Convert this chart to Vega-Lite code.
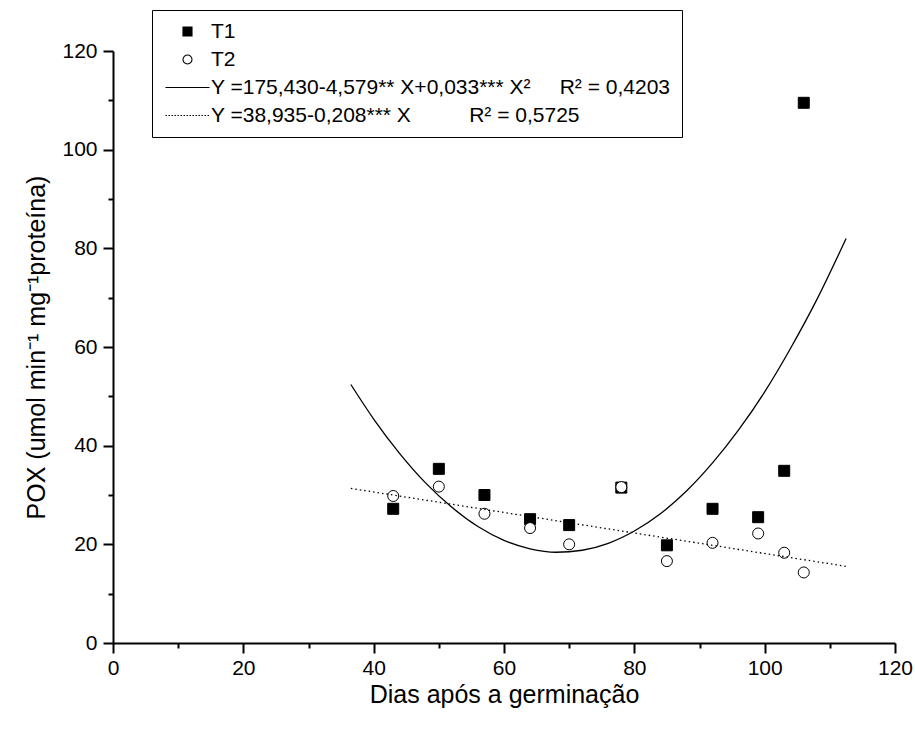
{
  "$schema": "https://vega.github.io/schema/vega-lite/v6.json",
  "width": 782,
  "height": 592,
  "autosize": {"type": "none"},
  "padding": {"left": 113, "top": 51, "right": 20, "bottom": 86},
  "background": "white",
  "config": {
    "view": {"stroke": null},
    "font": "Liberation Sans",
    "axis": {
      "grid": false,
      "domainColor": "black",
      "domainWidth": 2,
      "tickColor": "black",
      "tickWidth": 2,
      "labelFont": "Liberation Sans",
      "labelFontSize": 21,
      "labelColor": "black",
      "labelFlush": false,
      "labelOverlap": false,
      "titleFont": "Liberation Sans",
      "titleFontSize": 25,
      "titleFontWeight": "normal",
      "titleColor": "black"
    },
    "legend": {
      "title": null,
      "orient": "none",
      "legendX": 39,
      "legendY": -41,
      "strokeColor": "black",
      "fillColor": "white",
      "padding": 11,
      "symbolSize": 81,
      "symbolOffset": 14,
      "symbolStrokeWidth": 1.1,
      "symbolFillColor": "white",
      "symbolStrokeColor": "black",
      "symbolOpacity": 1,
      "labelOffset": 13,
      "labelFont": "Liberation Sans",
      "labelFontSize": 21,
      "labelColor": "black",
      "labelLimit": 0,
      "rowPadding": 6
    }
  },
  "datasets": {
    "points": [
      {"x": 43, "y": 27.2, "series": "T1"},
      {"x": 50, "y": 35.3, "series": "T1"},
      {"x": 57, "y": 30.0, "series": "T1"},
      {"x": 64, "y": 25.1, "series": "T1"},
      {"x": 70, "y": 23.9, "series": "T1"},
      {"x": 78, "y": 31.5, "series": "T1"},
      {"x": 85, "y": 19.8, "series": "T1"},
      {"x": 92, "y": 27.2, "series": "T1"},
      {"x": 99, "y": 25.5, "series": "T1"},
      {"x": 103, "y": 34.9, "series": "T1"},
      {"x": 106, "y": 109.5, "series": "T1"},
      {"x": 43, "y": 29.8, "series": "T2"},
      {"x": 50, "y": 31.7, "series": "T2"},
      {"x": 57, "y": 26.2, "series": "T2"},
      {"x": 64, "y": 23.3, "series": "T2"},
      {"x": 70, "y": 20.0, "series": "T2"},
      {"x": 78, "y": 31.6, "series": "T2"},
      {"x": 85, "y": 16.6, "series": "T2"},
      {"x": 92, "y": 20.3, "series": "T2"},
      {"x": 99, "y": 22.2, "series": "T2"},
      {"x": 103, "y": 18.3, "series": "T2"},
      {"x": 106, "y": 14.3, "series": "T2"}
    ],
    "quad": [
      {"x": 36.5, "y": 52.4},
      {"x": 40, "y": 45.4},
      {"x": 44, "y": 38.4},
      {"x": 48, "y": 32.4},
      {"x": 52, "y": 27.5},
      {"x": 56, "y": 23.6},
      {"x": 60, "y": 20.8},
      {"x": 64, "y": 19.1},
      {"x": 68, "y": 18.4},
      {"x": 72, "y": 18.8},
      {"x": 76, "y": 20.2},
      {"x": 80, "y": 22.7},
      {"x": 84, "y": 26.2},
      {"x": 88, "y": 30.8},
      {"x": 92, "y": 36.5},
      {"x": 96, "y": 43.2},
      {"x": 100, "y": 50.9},
      {"x": 104, "y": 59.8},
      {"x": 108, "y": 69.6},
      {"x": 112.5, "y": 82.0}
    ],
    "lin": [
      {"x": 36.5, "y": 31.34},
      {"x": 112.5, "y": 15.54}
    ]
  },
  "layer": [
    {
      "data": {"name": "points"},
      "mark": {"type": "point", "filled": true, "stroke": "black", "strokeWidth": 1, "opacity": 1, "size": 121},
      "encoding": {
        "x": {
          "field": "x", "type": "quantitative",
          "scale": {"domain": [0, 120], "nice": false, "zero": false},
          "axis": {
            "title": "Dias após a germinação",
            "values": [0, 10, 20, 30, 40, 50, 60, 70, 80, 90, 100, 110, 120],
            "labelExpr": "datum.value % 20 === 0 ? datum.label : ''",
            "tickSize": {"condition": {"test": "datum.value % 20 === 0", "value": 10}, "value": 5},
            "labelPadding": 4,
            "titlePadding": 4
          }
        },
        "y": {
          "field": "y", "type": "quantitative",
          "scale": {"domain": [0, 120], "nice": false, "zero": false},
          "axis": {
            "title": "POX (umol min⁻¹ mg⁻¹proteína)",
            "values": [0, 10, 20, 30, 40, 50, 60, 70, 80, 90, 100, 110, 120],
            "labelExpr": "datum.value % 20 === 0 ? datum.label : ''",
            "tickSize": {"condition": {"test": "datum.value % 20 === 0", "value": 10}, "value": 5},
            "labelPadding": 6,
            "titlePadding": 12
          }
        },
        "shape": {
          "field": "series", "type": "nominal",
          "scale": {
            "domain": ["T1", "T2", "eq1", "eq2"],
            "range": [
              "square",
              "circle",
              "M-4.9,0H4.9",
              "M-4.89,0h0.33M-4.22,0h0.33M-3.56,0h0.33M-2.89,0h0.33M-2.22,0h0.33M-1.56,0h0.33M-0.89,0h0.33M-0.22,0h0.33M0.44,0h0.33M1.11,0h0.33M1.78,0h0.33M2.44,0h0.33M3.11,0h0.33M3.78,0h0.33M4.44,0h0.33"
            ]
          },
          "legend": {
            "labelExpr": "datum.value === 'T1' ? '\u2007T1' : datum.value === 'T2' ? '\u2007T2' : datum.value === 'eq1' ? 'Y =175,430-4,579** X+0,033*** X²\u00a0\u00a0\u00a0\u00a0\u00a0R² = 0,4203' : 'Y =38,935-0,208*** X\u00a0\u00a0\u00a0\u00a0\u00a0\u00a0\u00a0\u00a0\u00a0\u00a0R² = 0,5725'"
          }
        },
        "fill": {
          "field": "series", "type": "nominal",
          "scale": {"domain": ["T1", "T2", "eq1", "eq2"], "range": ["black", "white", "white", "white"]},
          "legend": {
            "labelExpr": "datum.value === 'T1' ? '\u2007T1' : datum.value === 'T2' ? '\u2007T2' : datum.value === 'eq1' ? 'Y =175,430-4,579** X+0,033*** X²\u00a0\u00a0\u00a0\u00a0\u00a0R² = 0,4203' : 'Y =38,935-0,208*** X\u00a0\u00a0\u00a0\u00a0\u00a0\u00a0\u00a0\u00a0\u00a0\u00a0R² = 0,5725'"
          }
        }
      }
    },
    {
      "data": {"name": "quad"},
      "mark": {"type": "line", "color": "black", "strokeWidth": 1.3, "interpolate": "monotone"},
      "encoding": {
        "x": {"field": "x", "type": "quantitative"},
        "y": {"field": "y", "type": "quantitative"}
      }
    },
    {
      "data": {"name": "lin"},
      "mark": {"type": "line", "color": "black", "strokeWidth": 1.3, "strokeDash": [1.5, 3]},
      "encoding": {
        "x": {"field": "x", "type": "quantitative"},
        "y": {"field": "y", "type": "quantitative"}
      }
    }
  ]
}
